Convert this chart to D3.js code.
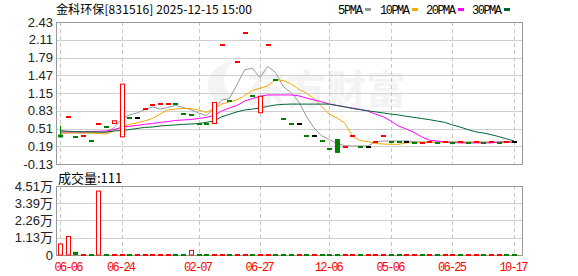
<!DOCTYPE html>
<html><head><meta charset="utf-8">
<script src="https://cdn.jsdelivr.net/npm/d3@7/dist/d3.min.js"></script>
<style>body{margin:0;background:#fff}svg{display:block}</style></head>
<body><svg id="c" width="578" height="276"></svg>
<script>
const title = "金科环保[831516] 2025-12-15 15:00";
const tickIdx = [0, 8, 18, 26, 35, 43, 51, 59];
const tickLabels = ["06-06", "06-24", "02-07", "06-27", "12-06", "05-06", "06-25", "10-17"];
const yTicks = [2.43, 2.11, 1.79, 1.47, 1.15, 0.83, 0.51, 0.19, -0.13];
const volTicks = [0, 11300, 22600, 33900, 45100];
const volTickLabels = ["0", "1.13万", "2.26万", "3.39万", "4.51万"];
const legendNames = ["5PMA", "10PMA", "20PMA", "30PMA"];

const openP = [0.40,0.71,0.355,0.375,0.28,0.60,0.53,0.60,0.36,0.694,
  0.694,0.856,0.94,0.945,0.95,0.945,0.77,0.76,0.59,0.585,
  0.60,2.01,1.00,1.70,2.23,1.10,0.795,2.01,1.38,0.676,
  0.586,0.586,0.375,0.375,0.285,0.14,0.32,0.17,0.37,0.176,
  0.176,0.27,0.37,0.27,0.26,0.26,0.24,0.25,0.26,0.25,
  0.26,0.25,0.26,0.25,0.26,0.25,0.26,0.25,0.26,0.26];
const closeP = [0.35,0.71,0.355,0.375,0.28,0.60,0.53,0.65,1.31,0.694,
  0.694,0.856,0.94,0.945,0.95,0.945,0.77,0.76,0.59,0.585,
  0.98,2.01,1.00,1.70,2.23,1.10,1.09,2.01,1.38,0.676,
  0.586,0.586,0.375,0.375,0.285,0.14,0.07,0.17,0.37,0.176,
  0.176,0.27,0.37,0.27,0.26,0.26,0.24,0.25,0.26,0.25,
  0.26,0.25,0.26,0.25,0.26,0.25,0.26,0.25,0.26,0.26];
const highP = [0.56,0.71,0.355,0.375,0.28,0.60,0.53,0.65,1.31,0.694,
  0.694,0.856,0.94,0.945,0.95,0.945,0.77,0.76,0.59,0.585,
  0.98,2.01,1.00,1.70,2.23,1.10,1.09,2.01,1.38,0.676,
  0.586,0.586,0.375,0.375,0.285,0.14,0.32,0.17,0.37,0.176,
  0.176,0.27,0.37,0.27,0.26,0.26,0.24,0.25,0.26,0.25,
  0.26,0.25,0.26,0.25,0.26,0.25,0.26,0.25,0.26,0.26];
const lowP = [0.35,0.71,0.355,0.375,0.28,0.60,0.53,0.60,0.36,0.694,
  0.694,0.856,0.94,0.945,0.95,0.945,0.77,0.76,0.59,0.585,
  0.60,2.01,1.00,1.70,2.23,1.10,0.795,2.01,1.38,0.676,
  0.586,0.586,0.375,0.375,0.285,0.14,0.07,0.17,0.37,0.176,
  0.176,0.27,0.37,0.27,0.26,0.26,0.24,0.25,0.26,0.25,
  0.26,0.25,0.26,0.25,0.26,0.25,0.26,0.25,0.26,0.26];
const volume = [7200,12100,2100,100,100,41800,100,100,100,100,
  100,100,100,100,100,100,100,3000,100,100,
  100,100,100,100,100,100,100,100,100,100,
  100,100,100,100,100,100,100,100,100,100,
  100,100,100,100,100,100,100,100,100,100,
  100,100,100,100,100,100,100,100,100,111];
// 1 = up (red), 0 = down (green) for the volume bars
const volUp = [1,1,0,1,0,1,0,1,1,0,
  1,1,1,1,1,0,0,1,0,0,
  1,1,0,1,1,0,1,1,0,0,
  0,1,0,1,0,0,0,1,1,0,
  1,1,1,0,0,1,1,0,1,0,
  1,1,0,1,1,0,1,1,0,0];

const ma5 = [0.424,0.43,0.43,0.43,0.43,0.43,0.44,0.52,0.68,0.754,
  0.79,0.85,0.90,0.86,0.89,0.925,0.89,0.85,0.79,0.745,
  0.86,1.024,1.05,1.30,1.57,1.595,1.43,1.63,1.52,1.27,
  1.16,1.0,0.735,0.52,0.38,0.31,0.24,0.20,0.195,0.195,
  0.195,0.267,0.285,0.285,0.285,0.285,0.275,0.267,0.267,0.267,
  0.267,0.267,0.267,0.267,0.267,0.267,0.267,0.267,0.267,0.267];
const ma10 = [0.43,0.43,0.43,0.43,0.43,0.42,0.41,0.465,0.54,0.585,
  0.61,0.645,0.69,0.77,0.844,0.86,0.87,0.87,0.844,0.80,
  0.87,0.95,0.99,1.024,1.105,1.195,1.235,1.28,1.39,1.375,
  1.32,1.22,1.15,1.05,0.91,0.77,0.70,0.61,0.375,0.29,
  0.275,0.24,0.23,0.225,0.225,0.25,0.26,0.26,0.26,0.26,
  0.26,0.26,0.26,0.26,0.26,0.26,0.26,0.26,0.26,0.26];
const ma20 = [0.45,0.45,0.45,0.45,0.455,0.46,0.465,0.49,0.53,0.55,
  0.565,0.585,0.60,0.62,0.635,0.655,0.664,0.672,0.69,0.71,
  0.745,0.825,0.88,0.925,1.005,1.05,1.09,1.115,1.115,1.115,
  1.115,1.10,1.06,1.025,0.99,0.95,0.925,0.90,0.88,0.855,
  0.825,0.77,0.72,0.645,0.555,0.50,0.44,0.36,0.30,0.285,
  0.27,0.26,0.25,0.25,0.25,0.25,0.25,0.265,0.265,0.265];
const ma30 = [0.47,0.46,0.455,0.45,0.45,0.445,0.445,0.465,0.475,0.49,
  0.51,0.53,0.537,0.555,0.565,0.574,0.585,0.59,0.60,0.62,
  0.645,0.72,0.765,0.81,0.844,0.86,0.88,0.91,0.934,0.945,
  0.95,0.95,0.95,0.95,0.95,0.95,0.925,0.90,0.87,0.85,
  0.83,0.81,0.79,0.77,0.754,0.73,0.71,0.69,0.67,0.645,
  0.62,0.574,0.537,0.49,0.45,0.43,0.40,0.365,0.325,0.285];

const RED = "#ff0000", GREEN = "#008000", BLACK = "#000000";
const maColors = ["#999999", "#f4a800", "#ff00ff", "#006633"];

const svg = d3.select("#c");
const L = 56, R = 522, T = 22, B = 164, VT = 186, VB = 255;
const n = openP.length;
const x = d3.scaleLinear().domain([0, n - 1]).range([60, 514]);
const y = d3.scaleLinear().domain([-0.13, 2.43]).range([B, T]);
const yv = d3.scaleLinear().domain([0, 45100]).range([VB, VT]);

// watermark
const wm = svg.append("g").attr("opacity", 0.45);
wm.append("text").attr("x", 246).attr("y", 104).attr("font-family", "Noto Sans CJK SC")
  .attr("font-size", 40).attr("font-weight", "bold").attr("fill", "#e6e6e6").text("东方财富");
wm.append("path").attr("d", "M214,100 C200,85 210,65 235,60 C222,70 220,85 232,98 Z").attr("fill", "#e6e6e6");

function grid(top, bottom, ticks, sc) {
  svg.append("g").selectAll("line").data(ticks).join("line")
    .attr("x1", L).attr("x2", R)
    .attr("y1", d => Math.round(sc(d)) + 0.5).attr("y2", d => Math.round(sc(d)) + 0.5)
    .attr("stroke", "#d0d0d0").attr("stroke-width", 1);
  svg.append("g").selectAll("line").data(tickIdx).join("line")
    .attr("x1", d => Math.round(x(d)) + 0.5).attr("x2", d => Math.round(x(d)) + 0.5)
    .attr("y1", top).attr("y2", bottom)
    .attr("stroke", "#c8c8c8").attr("stroke-dasharray", "4,3");
  svg.append("rect").attr("x", L + 0.5).attr("y", top + 0.5).attr("width", R - L)
    .attr("height", bottom - top).attr("fill", "none").attr("stroke", "#999").attr("stroke-width", 1);
}
grid(T, B, yTicks, y);
grid(VT, VB, volTicks, yv);

// y labels
svg.append("g").selectAll("text").data(yTicks).join("text")
  .attr("x", 53).attr("y", d => y(d) + 4.5).attr("text-anchor", "end")
  .attr("font-family", "Liberation Sans, Arial").attr("font-size", 13).attr("fill", "#222")
  .text(d => d.toFixed(2));
svg.append("g").selectAll("text").data(volTicks).join("text")
  .attr("x", 53).attr("y", d => yv(d) + 4.5).attr("text-anchor", "end")
  .attr("font-family", "Liberation Sans, Noto Sans CJK SC").attr("font-size", 13).attr("fill", "#222")
  .text((d, i) => volTickLabels[i]);

// x labels
svg.append("g").selectAll("text").data(tickIdx).join("text")
  .attr("x", (d, i) => i === 0 ? 69 : x(d)).attr("y", 271).attr("text-anchor", "middle")
  .attr("font-family", "Liberation Mono, DejaVu Sans Mono").attr("font-size", 12)
  .attr("textLength", 29).attr("fill", "#ff0000")
  .text((d, i) => tickLabels[i]);

// title + legend
svg.append("text").attr("x", 56).attr("y", 13.5).attr("font-family", "Noto Sans CJK SC")
  .attr("font-size", 12).attr("textLength", 196).attr("fill", "#000").text(title);
const legX = [338, 380, 426, 472], legW = [25, 30, 30, 30];
legendNames.forEach((nm, i) => {
  svg.append("text").attr("x", legX[i]).attr("y", 13.5).attr("font-family", "Liberation Mono, DejaVu Sans Mono")
    .attr("font-size", 12).attr("textLength", legW[i]).attr("fill", "#000").text(nm);
  svg.append("rect").attr("x", legX[i] + legW[i] + 2).attr("y", 8).attr("width", 6).attr("height", 3)
    .attr("fill", maColors[i]);
});
svg.append("text").attr("x", 58).attr("y", 183).attr("font-family", "Noto Sans CJK SC")
  .attr("font-size", 13).attr("fill", "#000").text("成交量:" + volume[n - 1]);

// MA lines
const clipId = "clipMain";
svg.append("clipPath").attr("id", clipId).append("rect").attr("x", L + 1).attr("y", T + 1).attr("width", R - L - 1).attr("height", B - T - 1);
const line = d3.line().x((d, i) => x(i)).y(d => y(d));
[ma5, ma10, ma20, ma30].forEach((arr, k) => {
  svg.append("path").attr("d", line(arr)).attr("fill", "none").attr("stroke", maColors[k])
    .attr("stroke-width", 1).attr("clip-path", `url(#${clipId})`);
});

// candles
function candleColor(i) {
  if (closeP[i] > openP[i]) return RED;
  if (closeP[i] < openP[i]) return GREEN;
  if (i === 0) return BLACK;
  if (closeP[i] > closeP[i - 1]) return RED;
  if (closeP[i] < closeP[i - 1]) return GREEN;
  return BLACK;
}
const bw = 5;
const cg = svg.append("g");
for (let i = 0; i < n; i++) {
  const c = candleColor(i), cx = Math.round(x(i));
  if (highP[i] > Math.max(openP[i], closeP[i]) || lowP[i] < Math.min(openP[i], closeP[i])) {
    cg.append("line").attr("x1", cx + 0.5).attr("x2", cx + 0.5).attr("y1", y(highP[i])).attr("y2", y(lowP[i]))
      .attr("stroke", c).attr("stroke-width", 1);
  }
  const top = y(Math.max(openP[i], closeP[i])), bot = y(Math.min(openP[i], closeP[i]));
  if (bot - top < 1.5) {
    cg.append("rect").attr("x", cx - 2).attr("y", Math.round(top) - 1).attr("width", bw).attr("height", 2).attr("fill", c);
  } else if (c === RED) {
    cg.append("rect").attr("x", cx - 1.5).attr("y", top).attr("width", bw - 1).attr("height", bot - top)
      .attr("fill", "#fff").attr("stroke", c).attr("stroke-width", 1);
  } else {
    cg.append("rect").attr("x", cx - 2).attr("y", top).attr("width", bw).attr("height", bot - top).attr("fill", c);
  }
}

// volume bars
const vg = svg.append("g");
for (let i = 0; i < n; i++) {
  const c = volUp[i] ? RED : GREEN, cx = Math.round(x(i));
  const h = VB - yv(volume[i]);
  if (h < 2) {
    vg.append("rect").attr("x", cx - 2).attr("y", VB - 1).attr("width", bw).attr("height", 2).attr("fill", c);
  } else if (c === RED) {
    vg.append("rect").attr("x", cx - 1.5).attr("y", yv(volume[i])).attr("width", bw - 1).attr("height", h)
      .attr("fill", "#fff").attr("stroke", c).attr("stroke-width", 1);
  } else {
    vg.append("rect").attr("x", cx - 2).attr("y", yv(volume[i])).attr("width", bw).attr("height", h).attr("fill", c);
  }
}
</script></body></html>
